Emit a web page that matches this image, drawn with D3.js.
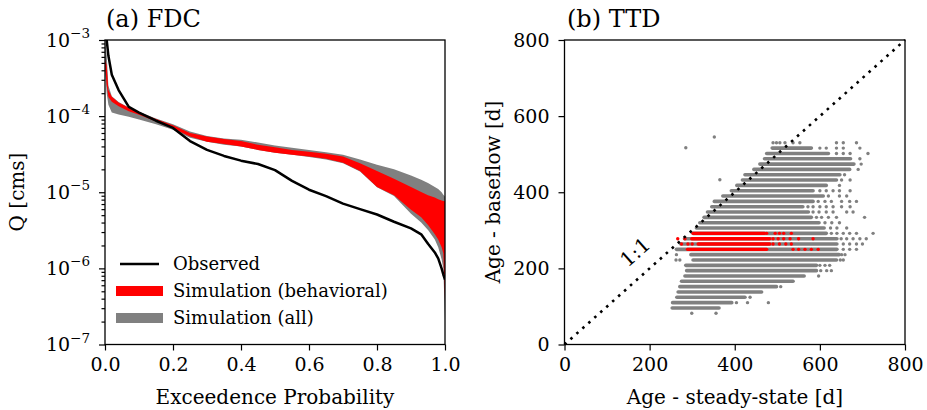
<!DOCTYPE html>
<html lang="en">
<head>
<meta charset="UTF-8">
<title>FDC and TTD</title>
<script src="https://cdn.jsdelivr.net/npm/d3@7"></script>
<style>
  body { margin: 0; background: #fff; }
  svg text { font-family: "DejaVu Serif", serif; fill: #000; }
</style>
</head>
<body>
<svg id="fig" width="927" height="410"></svg>
<script>
// (a) flow duration curves
const exceedProb = [0, 0.005, 0.01, 0.02, 0.04, 0.07, 0.1, 0.15, 0.2, 0.25, 0.3, 0.35, 0.4, 0.45, 0.5,
  0.55, 0.6, 0.65, 0.7, 0.75, 0.8, 0.85, 0.9, 0.93, 0.95, 0.97, 0.98, 0.99, 0.995, 1.0];
const qObserved = [1.05e-3, 1.0e-3, 6.2e-4, 3.5e-4, 2.2e-4, 1.32e-4, 1.11e-4, 8.7e-5, 7.0e-5, 4.7e-5, 3.6e-5,
  3.0e-5, 2.6e-5, 2.35e-5, 1.95e-5, 1.41e-5, 1.08e-5, 8.9e-6, 7.1e-6, 6.0e-6, 5.1e-6, 4.1e-6, 3.35e-6,
  2.8e-6, 2.1e-6, 1.62e-6, 1.35e-6, 1.0e-6, 8.3e-7, 7.1e-7];
const qBehavUpper = [5.6e-4, 4.7e-4, 2.2e-4, 1.8e-4, 1.51e-4, 1.29e-4, 1.12e-4, 9.2e-5, 7.6e-5, 6.0e-5, 5.4e-5,
  5.0e-5, 4.7e-5, 4.2e-5, 3.9e-5, 3.6e-5, 3.4e-5, 3.2e-5, 2.95e-5, 2.4e-5, 1.9e-5, 1.51e-5, 1.17e-5,
  1.01e-5, 9.1e-6, 8.5e-6, 8.1e-6, 7.8e-6, 7.7e-6, 7.6e-6];
const qBehavLower = [4.5e-4, 2.5e-4, 1.78e-4, 1.55e-4, 1.35e-4, 1.16e-4, 1.04e-4, 8.5e-5, 6.9e-5, 5.4e-5, 4.6e-5,
  4.3e-5, 4.0e-5, 3.6e-5, 3.3e-5, 3.1e-5, 2.95e-5, 2.75e-5, 2.45e-5, 1.9e-5, 1.17e-5, 9.1e-6, 5.9e-6,
  4.7e-6, 3.7e-6, 2.8e-6, 2.4e-6, 1.9e-6, 1.58e-6, 3.7e-7];
const qAllUpper = [1.0e-3, 6.3e-4, 2.5e-4, 1.82e-4, 1.53e-4, 1.3e-4, 1.14e-4, 9.3e-5, 7.8e-5, 6.3e-5, 5.5e-5,
  5.1e-5, 4.9e-5, 4.5e-5, 4.1e-5, 3.85e-5, 3.6e-5, 3.35e-5, 3.1e-5, 2.7e-5, 2.3e-5, 2.0e-5, 1.66e-5,
  1.46e-5, 1.32e-5, 1.17e-5, 1.1e-5, 1.0e-5, 9.3e-6, 8.8e-6];
const qAllLower = [4.0e-4, 2.0e-4, 1.41e-4, 1.12e-4, 1.05e-4, 9.8e-5, 9.0e-5, 7.8e-5, 6.6e-5, 5.2e-5, 4.6e-5,
  4.2e-5, 4.0e-5, 3.6e-5, 3.3e-5, 3.1e-5, 2.9e-5, 2.7e-5, 2.4e-5, 1.88e-5, 1.16e-5, 8.9e-6, 5.2e-6,
  4.0e-6, 3.2e-6, 2.4e-6, 1.9e-6, 1.32e-6, 1.0e-6, 2.1e-7];
const probTicks = [0, 0.2, 0.4, 0.6, 0.8, 1.0];
const qDecades = [1e-7, 1e-6, 1e-5, 1e-4, 1e-3];
const legendLabels = ["Observed", "Simulation (behavioral)", "Simulation (all)"];

// (b) travel time ages: rows of ages [d], dense runs plus loose points
const rowBaseAge = [96, 110, 124, 138, 152, 166, 180, 194, 208, 222, 236, 250, 264, 278, 292, 306,
  320, 334, 348, 362, 376, 390, 404, 418, 432, 446, 460, 474, 488, 502, 516];
const rowSteadyFrom = [253, 254, 264, 267, 271, 275, 283, 287, 285, 302, 297, 263, 273, 282, 302, 310,
  318, 328, 336, 346, 352, 372, 392, 405, 418, 424, 445, 459, 470, 475, 488];
const rowSteadyTo = [363, 393, 424, 463, 498, 537, 563, 592, 592, 639, 645, 640, 640, 640, 615, 610,
  598, 580, 573, 560, 584, 608, 584, 615, 639, 647, 670, 680, 672, 620, 580];
const loosePoints = [
  [299, 82], [356, 82], [404, 110], [430, 110], [479, 110], [436, 124], [508, 152], [597, 180],
  [602, 194], [616, 194], [627, 194], [600, 208], [612, 208], [623, 208],
  [262, 222], [271, 222], [648, 222], [655, 222], [263, 236], [651, 236], [659, 236],
  [655, 250], [670, 250], [686, 250], [655, 264], [670, 264], [686, 264], [700, 264],
  [650, 278], [663, 278], [678, 278], [694, 278], [709, 278],
  [627, 292], [640, 292], [655, 292], [670, 292], [686, 292], [725, 292],
  [625, 306], [640, 306], [663, 306], [612, 320], [628, 320], [646, 320],
  [592, 334], [604, 334], [620, 334], [639, 334], [705, 334],
  [584, 348], [598, 348], [615, 348], [631, 348], [663, 348], [678, 348],
  [572, 362], [584, 362], [600, 362], [615, 362], [631, 362], [651, 362], [671, 362],
  [596, 376], [612, 376], [627, 376], [651, 376], [670, 376], [686, 376],
  [620, 390], [646, 390], [663, 390], [600, 404], [615, 404], [631, 404], [646, 404], [671, 404],
  [646, 418], [651, 432], [671, 432], [658, 446], [690, 460], [697, 474], [694, 488],
  [639, 502], [655, 502], [671, 502], [713, 502],
  [600, 516], [615, 516], [639, 516], [655, 516], [694, 516],
  [490, 530], [498, 530], [506, 530], [518, 530], [537, 530], [553, 530], [639, 530], [655, 530], [686, 530],
  [352, 545], [285, 517], [365, 433]
];
const behavRowAge = [250, 264, 278, 292];
const behavRowFrom = [289, 314, 299, 302];
const behavRowTo = [475, 482, 482, 470];
const behavLoose = [
  [537, 250], [550, 250], [565, 250], [580, 250], [596, 250],
  [275, 264], [290, 264], [300, 264], [490, 264], [505, 264], [520, 264], [533, 264],
  [266, 278], [283, 278], [490, 278], [502, 278], [515, 278], [530, 278], [550, 278], [584, 278],
  [475, 292], [495, 292], [505, 292], [515, 292], [533, 292]
];
const ageTicks = [0, 200, 400, 600, 800];

const GREY = "#808080", RED = "#ff0000";
const svg = d3.select("#fig");

// ---------- panel (a) ----------
const xL = d3.scaleLinear().domain([0, 1]).range([105, 445]);
const yL = d3.scaleLog().domain([1e-7, 1e-3]).range([344.5, 40]);

svg.append("clipPath").attr("id", "clipA")
  .append("rect").attr("x", 105).attr("y", 40).attr("width", 340).attr("height", 304.5);

const gA = svg.append("g").attr("clip-path", "url(#clipA)");
const band = (lo, hi) => d3.area()
  .x((d, i) => xL(exceedProb[i]))
  .y0((d, i) => yL(lo[i]))
  .y1((d, i) => yL(hi[i]));

gA.append("path").datum(exceedProb).attr("d", band(qAllLower, qAllUpper)).attr("fill", GREY);
gA.append("path").datum(exceedProb).attr("d", band(qBehavLower, qBehavUpper)).attr("fill", RED);
gA.append("path").datum(exceedProb)
  .attr("d", d3.line().x((d, i) => xL(exceedProb[i])).y((d, i) => yL(qObserved[i])))
  .attr("fill", "none").attr("stroke", "#000").attr("stroke-width", 2.5).attr("stroke-linejoin", "round");

// x axis
svg.append("g").attr("transform", "translate(0,344.5)")
  .call(d3.axisBottom(xL).tickValues(probTicks).tickFormat(d3.format(".1f")).tickSize(6).tickPadding(7.5));
// log y axis: minor then major ticks
const minorQ = [];
qDecades.slice(0, -1).forEach(d => { for (let k = 2; k < 10; k++) minorQ.push(d * k); });
svg.append("g").attr("transform", "translate(105,0)")
  .call(d3.axisLeft(yL).tickValues(minorQ).tickFormat("").tickSize(3.5));
svg.append("g").attr("transform", "translate(105,0)")
  .call(d3.axisLeft(yL).tickValues(qDecades).tickFormat("").tickSize(6));

qDecades.forEach(v => {
  const t = svg.append("text").attr("x", 90).attr("y", yL(v) + 6.5)
    .attr("text-anchor", "end").attr("font-size", 19);
  t.append("tspan").text("10");
  t.append("tspan").attr("dy", -8.5).attr("font-size", 13.5).text("\u2212" + Math.round(-Math.log10(v)));
});

svg.append("rect").attr("x", 105).attr("y", 40).attr("width", 340).attr("height", 304.5)
  .attr("fill", "none").attr("stroke", "#000").attr("stroke-width", 1.3);

svg.append("text").attr("x", 106).attr("y", 27).attr("font-size", 24).text("(a) FDC");
svg.append("text").attr("x", 275).attr("y", 404).attr("text-anchor", "middle").attr("font-size", 20)
  .text("Exceedence Probability");
svg.append("text").attr("transform", "translate(24,192) rotate(-90)").attr("text-anchor", "middle")
  .attr("font-size", 20).text("Q [cms]");

// legend
const legY = [264, 291, 318];
const leg = svg.append("g");
leg.append("line").attr("x1", 120).attr("x2", 159).attr("y1", legY[0]).attr("y2", legY[0])
  .attr("stroke", "#000").attr("stroke-width", 2.5);
leg.append("rect").attr("x", 116).attr("y", legY[1] - 5).attr("width", 47).attr("height", 10).attr("fill", RED);
leg.append("rect").attr("x", 116).attr("y", legY[2] - 5).attr("width", 47).attr("height", 10).attr("fill", GREY);
legendLabels.forEach((s, i) => {
  leg.append("text").attr("x", 173).attr("y", legY[i]).attr("dy", "0.35em").attr("font-size", 18).text(s);
});

// ---------- panel (b) ----------
const xR = d3.scaleLinear().domain([0, 800]).range([564.5, 905]);
const yR = d3.scaleLinear().domain([0, 800]).range([344.5, 40]);
const gB = svg.append("g");

gB.selectAll("line.row").data(rowBaseAge).join("line").attr("class", "row")
  .attr("x1", (d, i) => xR(rowSteadyFrom[i])).attr("x2", (d, i) => xR(rowSteadyTo[i]))
  .attr("y1", d => yR(d)).attr("y2", d => yR(d))
  .attr("stroke", GREY).attr("stroke-width", 3.6).attr("stroke-linecap", "round");
gB.selectAll("circle.loose").data(loosePoints).join("circle").attr("class", "loose")
  .attr("cx", d => xR(d[0])).attr("cy", d => yR(d[1])).attr("r", 1.7).attr("fill", GREY);
gB.selectAll("line.brow").data(behavRowAge).join("line").attr("class", "brow")
  .attr("x1", (d, i) => xR(behavRowFrom[i])).attr("x2", (d, i) => xR(behavRowTo[i]))
  .attr("y1", d => yR(d)).attr("y2", d => yR(d))
  .attr("stroke", RED).attr("stroke-width", 3.4).attr("stroke-linecap", "round");
gB.selectAll("circle.bloose").data(behavLoose).join("circle").attr("class", "bloose")
  .attr("cx", d => xR(d[0])).attr("cy", d => yR(d[1])).attr("r", 1.7).attr("fill", RED);

// 1:1 line
gB.append("path").datum([0, 800])
  .attr("d", d3.line().x(d => xR(d)).y(d => yR(d)))
  .attr("stroke", "#000").attr("stroke-width", 2.6).attr("stroke-dasharray", "2.6,5.4").attr("fill", "none");
const ang = Math.atan2(yR(0) - yR(800), xR(800) - xR(0)) * 180 / Math.PI;
svg.append("text").attr("transform", `translate(${xR(166)},${yR(243)}) rotate(${-ang})`)
  .attr("text-anchor", "middle").attr("dy", "0.35em").attr("font-size", 20).text("1:1");

svg.append("g").attr("transform", "translate(0,344.5)")
  .call(d3.axisBottom(xR).tickValues(ageTicks).tickSize(6).tickPadding(7.5));
svg.append("g").attr("transform", "translate(564.5,0)")
  .call(d3.axisLeft(yR).tickValues(ageTicks).tickSize(6).tickPadding(9));

svg.append("rect").attr("x", 564.5).attr("y", 40).attr("width", 340.5).attr("height", 304.5)
  .attr("fill", "none").attr("stroke", "#000").attr("stroke-width", 1.3);

svg.append("text").attr("x", 567).attr("y", 27).attr("font-size", 24).text("(b) TTD");
svg.append("text").attr("x", 735).attr("y", 404).attr("text-anchor", "middle").attr("font-size", 20)
  .text("Age - steady-state [d]");
svg.append("text").attr("transform", "translate(500,192) rotate(-90)").attr("text-anchor", "middle")
  .attr("font-size", 20).text("Age - baseflow [d]");

// axis styling
svg.selectAll(".domain").remove();
svg.selectAll(".tick line").attr("stroke", "#000").attr("stroke-width", 1.2);
svg.selectAll(".tick text").attr("font-family", "DejaVu Serif").attr("font-size", 19).attr("fill", "#000");
</script>
</body>
</html>
